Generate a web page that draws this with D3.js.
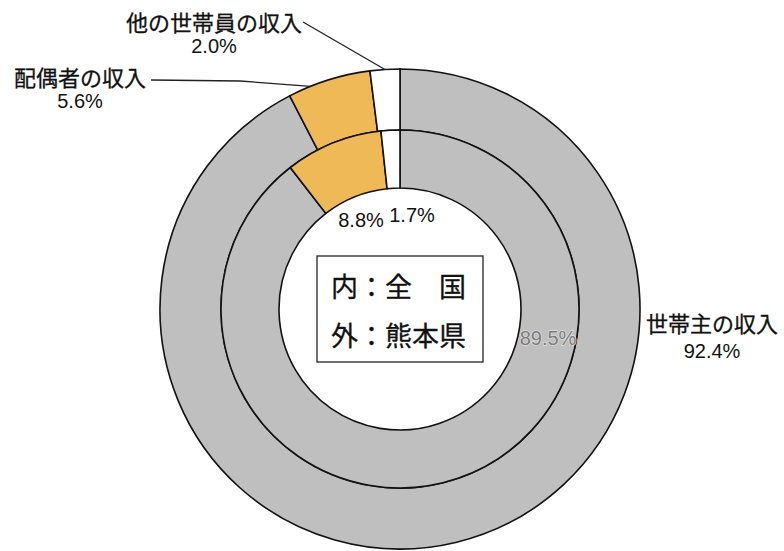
<!DOCTYPE html>
<html>
<head>
<meta charset="utf-8">
<script src="https://cdn.jsdelivr.net/npm/d3@7"></script>
<style>
  body { margin: 0; background: #fff; }
  svg { display: block; }
</style>
</head>
<body>
<div id="chart"></div>
<script>
// Data
const categories = ["世帯主の収入", "配偶者の収入", "他の世帯員の収入"]
const kumamoto = [92.4, 5.6, 2.0]   // outer ring (外：熊本県)
const zenkoku = [89.5, 8.8, 1.7]    // inner ring (内：全国)
const legendLines = ["内：全　国", "外：熊本県"]

function draw() {
  const dimensions = { width: 784, height: 551, cx: 400, cy: 309 }
  const colors = ["#bfbfbf", "#f0b957", "#ffffff"]
  const jp = '"Noto Sans CJK JP", sans-serif'
  const num = '"Liberation Sans", Arial, sans-serif'

  const svg = d3.select('#chart')
    .append('svg')
    .attr('width', dimensions.width)
    .attr('height', dimensions.height)

  const ctr = svg.append('g')
    .attr('transform', `translate(${dimensions.cx}, ${dimensions.cy})`)

  // pie layout, clockwise from 12 o'clock, keep data order
  const pie = d3.pie().sort(null).value(d => d)
  const outerArcs = pie(kumamoto)
  const innerArcs = pie(zenkoku)

  const outerArc = d3.arc().innerRadius(179).outerRadius(240)
  const innerArc = d3.arc().innerRadius(121).outerRadius(179)

  ctr.selectAll('path.outer')
    .data(outerArcs)
    .join('path')
    .attr('class', 'outer')
    .attr('d', outerArc)
    .attr('fill', (d, i) => colors[i])
    .attr('stroke', '#111')
    .attr('stroke-width', 1.6)

  ctr.selectAll('path.inner')
    .data(innerArcs)
    .join('path')
    .attr('class', 'inner')
    .attr('d', innerArc)
    .attr('fill', (d, i) => colors[i])
    .attr('stroke', '#111')
    .attr('stroke-width', 1.6)

  // point on a circle of radius r at angle a (d3 angle, 0 = top)
  const pt = (a, r) => [r * Math.sin(a), -r * Math.cos(a)]

  // leader lines
  const other = outerArcs[2]
  const pOther = pt((other.startAngle + other.endAngle) / 2, 240)
  ctr.append('path')
    .attr('d', `M${303 - dimensions.cx},${22 - dimensions.cy} L${pOther[0]},${pOther[1]}`)
    .attr('fill', 'none')
    .attr('stroke', '#222')
    .attr('stroke-width', 1.3)

  const spouse = outerArcs[1]
  const pSpouse = pt(spouse.startAngle + 0.27 * (spouse.endAngle - spouse.startAngle), 240)
  ctr.append('path')
    .attr('d', `M${151 - dimensions.cx},${80 - dimensions.cy} L${240 - dimensions.cx},${81 - dimensions.cy} L${pSpouse[0]},${pSpouse[1]}`)
    .attr('fill', 'none')
    .attr('stroke', '#222')
    .attr('stroke-width', 1.3)

  // outer labels (熊本県)
  const outerLabels = [
    { x: 712, y1: 332, y2: 358 },
    { x: 80, y1: 86, y2: 108 },
    { x: 214, y1: 31, y2: 53 }
  ]
  outerLabels.forEach((l, i) => {
    svg.append('text')
      .attr('x', l.x).attr('y', l.y1)
      .attr('text-anchor', 'middle')
      .style('font-family', jp).style('font-size', '22px')
      .attr('fill', '#111')
      .attr('stroke', '#111').attr('stroke-width', 0.3)
      .text(categories[i])
    svg.append('text')
      .attr('x', l.x).attr('y', l.y2)
      .attr('text-anchor', 'middle')
      .style('font-family', num).style('font-size', '20px')
      .attr('fill', '#111')
      .text(d3.format('.1f')(kumamoto[i]) + '%')
  })

  // inner labels (全国)
  const innerLabels = [
    { x: 548, y: 345, color: '#7c7c7c' },
    { x: 361, y: 227, color: '#111' },
    { x: 412, y: 222, color: '#111' }
  ]
  innerLabels.forEach((l, i) => {
    svg.append('text')
      .attr('x', l.x).attr('y', l.y)
      .attr('text-anchor', 'middle')
      .style('font-family', num).style('font-size', '20px')
      .attr('fill', l.color)
      .attr('stroke', i === 0 ? '#dedede' : 'none')
      .attr('stroke-width', i === 0 ? 1.5 : 0)
      .style('paint-order', 'stroke')
      .text(d3.format('.1f')(zenkoku[i]) + '%')
  })

  // legend box
  svg.append('rect')
    .attr('x', 317).attr('y', 256)
    .attr('width', 166).attr('height', 106)
    .attr('fill', '#fff')
    .attr('stroke', '#222')
    .attr('stroke-width', 1.3)

  svg.selectAll('text.legend')
    .data(legendLines)
    .join('text')
    .attr('class', 'legend')
    .attr('x', 331)
    .attr('y', (d, i) => 297 + i * 49)
    .style('font-family', jp).style('font-size', '27px')
    .attr('fill', '#111')
    .attr('stroke', '#111').attr('stroke-width', 0.3)
    .text(d => d)
}

draw()
</script>
</body>
</html>
